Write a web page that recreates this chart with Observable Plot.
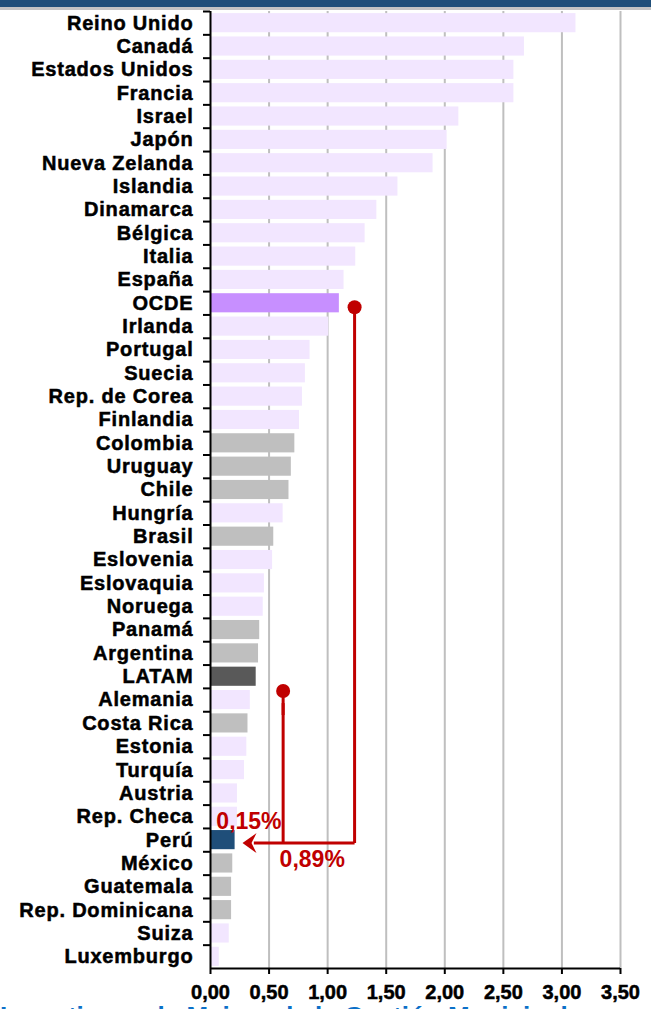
<!DOCTYPE html>
<html>
<head>
<meta charset="utf-8">
<script src="https://cdn.jsdelivr.net/npm/d3@7"></script>
<script src="https://cdn.jsdelivr.net/npm/@observablehq/plot@0.6"></script>
<style>
  html, body { margin: 0; padding: 0; background: white; overflow: hidden; width: 651px; height: 1009px; }
  #chart { position: absolute; left: 0; top: 0; }
  #bandTop { position: absolute; left: 0; top: 0; width: 651px; height: 7px; background: #1f4e79; }
  #bandLine { position: absolute; left: 0; top: 7px; width: 651px; height: 3px; background: #c3c3c3; }
  #foot { position: absolute; left: 0; top: 1003px; white-space: nowrap; font: bold 26px/26px "Liberation Sans", Arial, sans-serif; color: #0b70c8; }
  svg g[aria-label="y-axis tick label"] text { font: bold 20px "Liberation Sans", Arial, sans-serif; letter-spacing: 0.8px; fill: #000; stroke: #000; stroke-width: 0.5px; }
  svg g[aria-label="x-axis tick label"] text { font: bold 20px "Liberation Sans", Arial, sans-serif; fill: #000; stroke: #000; stroke-width: 0.5px; }
</style>
</head>
<body>
<div id="chart"></div>
<div id="bandTop"></div>
<div id="bandLine"></div>
<div id="foot">Incentivos a la Mejora de la Gestión Municipal</div>
<script>
const categories = ["Reino Unido","Canadá","Estados Unidos","Francia","Israel","Japón","Nueva Zelanda","Islandia","Dinamarca","Bélgica","Italia","España","OCDE","Irlanda","Portugal","Suecia","Rep. de Corea","Finlandia","Colombia","Uruguay","Chile","Hungría","Brasil","Eslovenia","Eslovaquia","Noruega","Panamá","Argentina","LATAM","Alemania","Costa Rica","Estonia","Turquía","Austria","Rep. Checa","Perú","México","Guatemala","Rep. Dominicana","Suiza","Luxemburgo"];
const values = [3.12,2.68,2.59,2.59,2.12,2.02,1.90,1.60,1.42,1.32,1.24,1.14,1.10,1.01,0.85,0.81,0.785,0.76,0.72,0.69,0.67,0.62,0.54,0.53,0.46,0.45,0.42,0.41,0.39,0.34,0.32,0.31,0.29,0.23,0.23,0.21,0.19,0.18,0.18,0.16,0.075];
const groups = ["oecd","oecd","oecd","oecd","oecd","oecd","oecd","oecd","oecd","oecd","oecd","oecd","oecdAvg","oecd","oecd","oecd","oecd","oecd","latam","latam","latam","oecd","latam","oecd","oecd","oecd","latam","latam","latamAvg","oecd","latam","oecd","oecd","oecd","oecd","peru","latam","latam","latam","oecd","oecd"];
const groupColors = {oecd: "#f2e6ff", oecdAvg: "#c78fff", latam: "#bfbfbf", latamAvg: "#595959", peru: "#1f4e79"};
const xTicks = [0, 0.5, 1, 1.5, 2, 2.5, 3, 3.5];
// annotation: LATAM and OCDE gaps pointing to Perú
const gapLabels = ["0,15%", "0,89%"];
const gapMarkerX = [0.62, 1.23];

const data = categories.map((c, i) => ({country: c, value: values[i], group: groups[i]}));

const W = 651, H = 1009, mT = 11, mB = 41, mL = 210, mR = 31;
const padIn = 0.18, padOut = 0.09;
const step = (H - mT - mB) / (categories.length - padIn + 2 * padOut);
const red = "#c00000";

const arrowHead = {
  draw(ctx) {
    ctx.moveTo(-7, 0);
    ctx.lineTo(7, -10);
    ctx.lineTo(2, 0);
    ctx.lineTo(7, 10);
    ctx.closePath();
  }
};

const fmt = d => d3.format(".2f")(d).replace(".", ",");
const annoFont = {fontSize: 23, fontWeight: "bold", fontFamily: "'Liberation Sans', Arial, sans-serif"};

const plot = Plot.plot({
  width: W, height: H,
  marginTop: mT, marginBottom: mB, marginLeft: mL, marginRight: mR,
  style: {background: "transparent", overflow: "visible"},
  x: {domain: [0, 3.5], axis: null, label: null},
  y: {domain: categories, axis: null, label: null, paddingInner: padIn, paddingOuter: padOut, round: false},
  marks: [
    Plot.ruleX(xTicks.slice(1), {stroke: "#bfbfbf", strokeWidth: 2}),
    Plot.barX(data, {x: "value", y: "country", fill: d => groupColors[d.group]}),
    Plot.ruleX([0], {stroke: "#000", strokeWidth: 2}),
    Plot.ruleY(categories, {y: d => d, x1: -0.06, x2: 0, dy: -step / 2, stroke: "#000", strokeWidth: 2}),
    Plot.ruleY([categories[categories.length - 1]], {y: d => d, x1: 0, x2: 3.5, dy: step / 2, stroke: "#000", strokeWidth: 2}),
    Plot.axisY({tickSize: 0, tickPadding: 17}),
    Plot.axisX(xTicks, {tickSize: 6, tickPadding: 10, tickFormat: fmt, stroke: "#000", strokeWidth: 2}),
    // annotation lines
    Plot.link([{x1: gapMarkerX[1], x2: gapMarkerX[1], y1: "OCDE", y2: "Perú"}], {x1: "x1", x2: "x2", y1: "y1", y2: "y2", dy: 3, stroke: red, strokeWidth: 3}),
    Plot.link([{x1: gapMarkerX[0], x2: gapMarkerX[0], y1: "Alemania", y2: "Perú"}], {x1: "x1", x2: "x2", y1: "y1", y2: "y2", dy: 3, stroke: red, strokeWidth: 3}),
    Plot.link([{x1: gapMarkerX[0], x2: gapMarkerX[0], y1: "LATAM", y2: "Alemania"}], {x1: "x1", x2: "x2", y1: "y1", y2: "y2", dy: 15, stroke: red, strokeWidth: 3}),
    Plot.link([{x1: gapMarkerX[1], x2: 0.37, y1: "Perú", y2: "Perú"}], {x1: "x1", x2: "x2", y1: "y1", y2: "y2", dy: 3, stroke: red, strokeWidth: 3}),
    Plot.dot([{x: 0.333, y: "Perú"}], {x: "x", y: "y", dy: 3, symbol: arrowHead, r: 5, fill: red, stroke: "none"}),
    Plot.dot([{x: gapMarkerX[1], y: "OCDE"}], {x: "x", y: "y", dy: 4, r: 7, fill: red, stroke: "none"}),
    Plot.dot([{x: gapMarkerX[0], y: "Alemania"}], {x: "x", y: "y", dy: -9, r: 7, fill: red, stroke: "none"}),
    Plot.text([{x: 0.05, y: "Rep. Checa", t: gapLabels[0]}], {x: "x", y: "y", text: "t", dy: 5, textAnchor: "start", fill: red, ...annoFont}),
    Plot.text([{x: 0.59, y: "México", t: gapLabels[1]}], {x: "x", y: "y", text: "t", dy: -4, textAnchor: "start", fill: red, ...annoFont})
  ]
});
document.getElementById("chart").appendChild(plot);
</script>
</body>
</html>
